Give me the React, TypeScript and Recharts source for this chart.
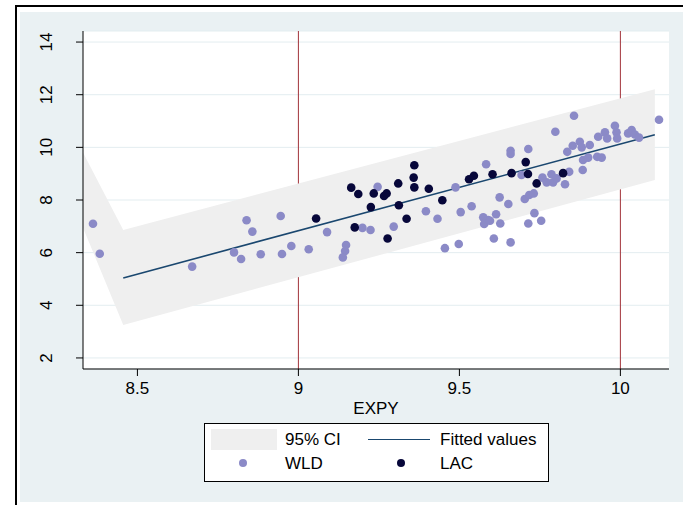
import React from 'react';
import {
  ComposedChart,
  Area,
  Line,
  Scatter,
  XAxis,
  YAxis,
  CartesianGrid,
} from 'recharts';

const FONT = "Arial, 'Liberation Sans', Helvetica, sans-serif";

const xTicks = [8.5, 9, 9.5, 10];
const yTicks = [2, 4, 6, 8, 10, 12, 14];
const xLines = [9, 10];

// 95% CI band and fitted line (x, lower, upper, fit)
const ciX = [8.331, 8.456, 10.107];
const ciLow = [6.95, 3.25, 8.76];
const ciHigh = [9.8, 6.86, 12.21];
const fitY = [null, 5.04, 10.48];

// WLD points [EXPY, y]
const wldPoints: [number, number][] = [
  [8.362, 7.1], [8.383, 5.96], [8.67, 5.47], [8.8, 6.01], [8.822, 5.76],
  [8.839, 7.23], [8.857, 6.8], [8.883, 5.94], [8.945, 7.39], [8.949, 5.95],
  [8.978, 6.25], [9.032, 6.13], [9.089, 6.78], [9.148, 6.29], [9.145, 6.06],
  [9.138, 5.82], [9.199, 6.94], [9.224, 6.86], [9.246, 8.5], [9.296, 6.99],
  [9.396, 7.57], [9.432, 7.29], [9.455, 6.17], [9.488, 8.48], [9.498, 6.33],
  [9.504, 7.54], [9.538, 7.76], [9.574, 7.34], [9.589, 7.24], [9.577, 7.09],
  [9.595, 7.21], [9.583, 9.36], [9.614, 7.46], [9.625, 8.1], [9.627, 7.11],
  [9.607, 6.54], [9.652, 7.85], [9.659, 6.39], [9.659, 9.87], [9.659, 9.75],
  [9.693, 8.95], [9.703, 8.04], [9.717, 8.19], [9.731, 8.25], [9.714, 9.94],
  [9.714, 7.11], [9.733, 7.5], [9.754, 7.21], [9.758, 8.85], [9.771, 8.67],
  [9.786, 8.98], [9.791, 8.67], [9.802, 8.82], [9.828, 8.6], [9.841, 9.07],
  [9.856, 11.2], [9.798, 10.59], [9.835, 9.83], [9.852, 10.06], [9.874, 10.21],
  [9.88, 10.0], [9.905, 10.09], [9.884, 9.52], [9.9, 9.61], [9.883, 9.14],
  [9.928, 9.64], [9.942, 9.61], [9.931, 10.4], [9.952, 10.57], [9.959, 10.34],
  [9.983, 10.82], [9.988, 10.57], [9.99, 10.34], [10.024, 10.53], [10.035, 10.66],
  [10.045, 10.49], [10.058, 10.37], [10.12, 11.05],
];

// LAC points [EXPY, y]
const lacPoints: [number, number][] = [
  [9.055, 7.3], [9.164, 8.47], [9.186, 8.23], [9.175, 6.96], [9.225, 7.73],
  [9.234, 8.25], [9.266, 8.15], [9.274, 8.25], [9.277, 6.54], [9.31, 8.63],
  [9.312, 7.8], [9.336, 7.29], [9.36, 9.32], [9.358, 8.85], [9.36, 8.48],
  [9.405, 8.43], [9.447, 7.99], [9.53, 8.79], [9.545, 8.92], [9.603, 8.98],
  [9.662, 9.02], [9.706, 9.44], [9.713, 8.99], [9.74, 8.63], [9.822, 9.02],
];

const bandData = ciX.map((x, i) => ({
  x,
  band: [ciLow[i], ciHigh[i]],
  fit: fitY[i],
}));
const wldData = wldPoints.map(([x, y]) => ({ x, y }));
const lacData = lacPoints.map(([x, y]) => ({ x, y }));

const WLD_COLOR = '#8b8ac7';
const LAC_COLOR = '#07073a';
const FIT_COLOR = '#1a476f';
const BAND_COLOR = '#efefef';
const LINE_RED = '#a2333a';
const FS = 17;

const Dot = (color: string) => (props: any) => (
  <circle cx={props.cx} cy={props.cy} r={4.3} fill={color} />
);

const YTick = ({ x, y, payload }: any) => (
  <text
    x={x - 22}
    y={y}
    transform={`rotate(-90 ${x - 22} ${y})`}
    textAnchor="middle"
    fontSize={FS}
    fontFamily={FONT}
    fill="#000"
  >
    {payload.value}
  </text>
);

const XTick = ({ x, payload }: any) => (
  <text x={x} y={394} textAnchor="middle" fontSize={FS} fontFamily={FONT} fill="#000">
    {payload.value}
  </text>
);

export default function App() {
  return (
    <div style={{ position: 'absolute', left: 0, top: 0, width: 683, height: 505, background: '#fff', overflow: 'hidden' }}>
      <div
        style={{
          position: 'absolute',
          left: 15,
          top: 5,
          width: 700,
          height: 520,
          borderLeft: '2px solid #000',
          borderTop: '2px solid #000',
        }}
      />
      <div style={{ position: 'absolute', left: 20, top: 12, width: 663, height: 490, background: '#eaf1f3' }} />
      <div style={{ position: 'absolute', left: 0, top: 0 }}>
        <ComposedChart
          width={683}
          height={505}
          data={bandData}
          margin={{ top: 31, right: 14, left: 20, bottom: 86 }}
        >
          <CartesianGrid vertical={false} stroke="#e3edf0" fill="#fff" fillOpacity={1} />
          <CartesianGrid
            xAxisId="lines"
            horizontal={false}
            syncWithTicks
            stroke={LINE_RED}
            strokeWidth={1}
          />
          <XAxis
            dataKey="x"
            type="number"
            domain={[8.331, 10.151]}
            ticks={xTicks}
            allowDataOverflow
            height={50}
            tickSize={7}
            stroke="#000"
            tick={<XTick />}
            label={{
              value: 'EXPY',
              content: () => (
                <text x={376} y={414} textAnchor="middle" fontSize={FS} fontFamily={FONT} fill="#000">
                  EXPY
                </text>
              ),
            }}
          />
          <XAxis
            xAxisId="lines"
            dataKey="x"
            type="number"
            domain={[8.331, 10.151]}
            ticks={xLines}
            allowDataOverflow
            hide
          />
          <YAxis
            type="number"
            domain={[1.58, 14.42]}
            ticks={yTicks}
            allowDataOverflow
            width={63}
            tickSize={7}
            stroke="#000"
            tick={<YTick />}
          />
          <Area
            dataKey="band"
            stroke="none"
            fill={BAND_COLOR}
            fillOpacity={1}
            isAnimationActive={false}
            activeDot={false}
          />
          <Line
            dataKey="fit"
            stroke={FIT_COLOR}
            strokeWidth={1.6}
            dot={false}
            activeDot={false}
            isAnimationActive={false}
          />
          <Scatter data={wldData} dataKey="y" shape={Dot(WLD_COLOR)} isAnimationActive={false} />
          <Scatter data={lacData} dataKey="y" shape={Dot(LAC_COLOR)} isAnimationActive={false} />
        </ComposedChart>
      </div>
      <div
        style={{
          position: 'absolute',
          left: 204,
          top: 423,
          width: 343,
          height: 57,
          border: '1px solid #000',
          background: '#fff',
          fontFamily: FONT,
          fontSize: FS,
          color: '#000',
        }}
      >
        <div style={{ position: 'absolute', left: 6, top: 5, width: 66, height: 21, background: BAND_COLOR }} />
        <span style={{ position: 'absolute', left: 80, top: 6, lineHeight: '19px' }}>95% CI</span>
        <div style={{ position: 'absolute', left: 163, top: 15, width: 62, height: 0, borderTop: `1.5px solid ${FIT_COLOR}` }} />
        <span style={{ position: 'absolute', left: 235, top: 6, lineHeight: '19px' }}>Fitted values</span>
        <div style={{ position: 'absolute', left: 34, top: 35, width: 8, height: 8, borderRadius: 4, background: WLD_COLOR }} />
        <span style={{ position: 'absolute', left: 80, top: 30, lineHeight: '19px' }}>WLD</span>
        <div style={{ position: 'absolute', left: 192, top: 35, width: 8, height: 8, borderRadius: 4, background: LAC_COLOR }} />
        <span style={{ position: 'absolute', left: 235, top: 30, lineHeight: '19px' }}>LAC</span>
      </div>
    </div>
  );
}
